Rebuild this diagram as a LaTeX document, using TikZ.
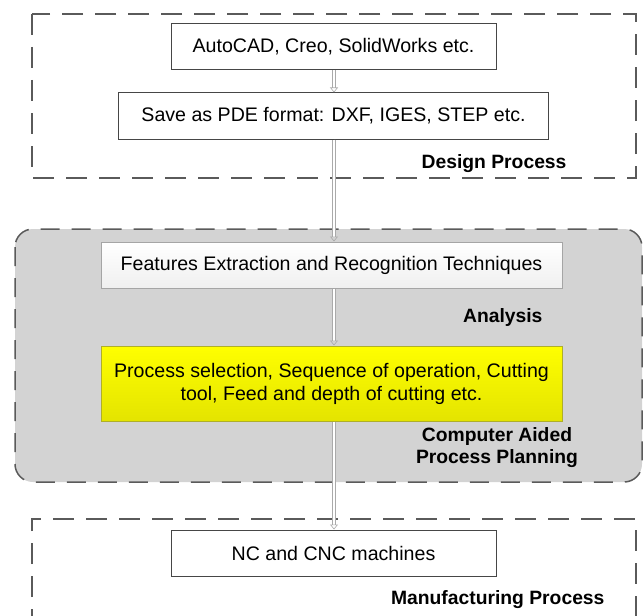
\documentclass[tikz,border=0pt]{standalone}
\usepackage{fontspec}
\setmainfont{Liberation Sans}
\usetikzlibrary{arrows.meta}
\definecolor{frame}{RGB}{90,90,90}
\definecolor{panel}{RGB}{211,211,211}
\definecolor{boxline}{RGB}{70,70,70}
\definecolor{lightline}{RGB}{165,165,165}
\definecolor{yelltop}{RGB}{255,255,0}
\definecolor{yellbot}{RGB}{228,228,0}
\definecolor{yellline}{RGB}{175,175,40}
\definecolor{arrline}{RGB}{170,170,170}
\tikzset{
  x=1pt, y=-1pt,
  txt/.style={font=\fontsize{19.6}{23}\selectfont},
  lbl/.style={font=\fontsize{19.3}{22}\selectfont\bfseries, align=center},
  plainbox/.style={txt, draw=boxline, line width=1pt, fill=white, inner sep=0pt, align=center},
  featbox/.style={txt, draw=lightline, line width=1pt, top color=white, bottom color=black!6, inner sep=0pt, align=center},
  yellbox/.style={txt, draw=yellline, line width=1pt, top color=yelltop, bottom color=yellbot, inner sep=0pt, align=center},
  dframe/.style={draw=frame, line width=1.5pt, dash pattern=on 21pt off 12pt},
  flow/.style={draw=arrline, line width=0.6pt, double=white, double distance=2.2pt, -{Triangle[open, length=5pt, width=8pt]}},
}
\begin{document}
\begin{tikzpicture}
\useasboundingbox (0,0) rectangle (644,615);
% frames
\draw[dframe] (32,14) rectangle (636,178);
\draw[dframe] (32,630) -- (32,519) -- (636,519) -- (636,630);
\filldraw[fill=panel, draw=frame, line width=1.5pt, dash pattern=on 19pt off 12pt, rounded corners=18pt] (15,229) rectangle (642,482);
% nodes
\node[plainbox, minimum width=325pt, minimum height=46pt] (cad) at (333.5,47) {AutoCAD, Creo, SolidWorks etc.};
\node[plainbox, minimum width=430pt, minimum height=46pt] (pde) at (333.5,116) {Save as PDE format: DXF, IGES, STEP etc.};
\node[lbl, anchor=east] (design) at (570,164) {Design Process};
\node[featbox, minimum width=461pt, minimum height=46pt] (feat) at (331.5,265) {Features Extraction and Recognition Techniques};
\node[lbl, anchor=east] (analysis) at (546,318) {Analysis};
\node[yellbox, minimum width=461pt, minimum height=75pt] (proc) at (331.5,383.5) {Process selection, Sequence of operation, Cutting\\tool, Feed and depth of cutting etc.};
\node[lbl] (capp) at (497,448) {Computer Aided\\Process Planning};
\node[plainbox, minimum width=325pt, minimum height=46pt] (nc) at (333.5,553) {NC and CNC machines};
\node[lbl, anchor=east] (manu) at (608,600) {Manufacturing Process};
% connectors
\draw[flow] (cad.south -| 334,0) -- (pde.north -| 334,0);
\draw[flow] (pde.south -| 334,0) -- (feat.north -| 334,0);
\draw[flow] (feat.south -| 334,0) -- (proc.north -| 334,0);
\draw[flow] (proc.south -| 334,0) -- (nc.north -| 334,0);
\end{tikzpicture}
\end{document}
